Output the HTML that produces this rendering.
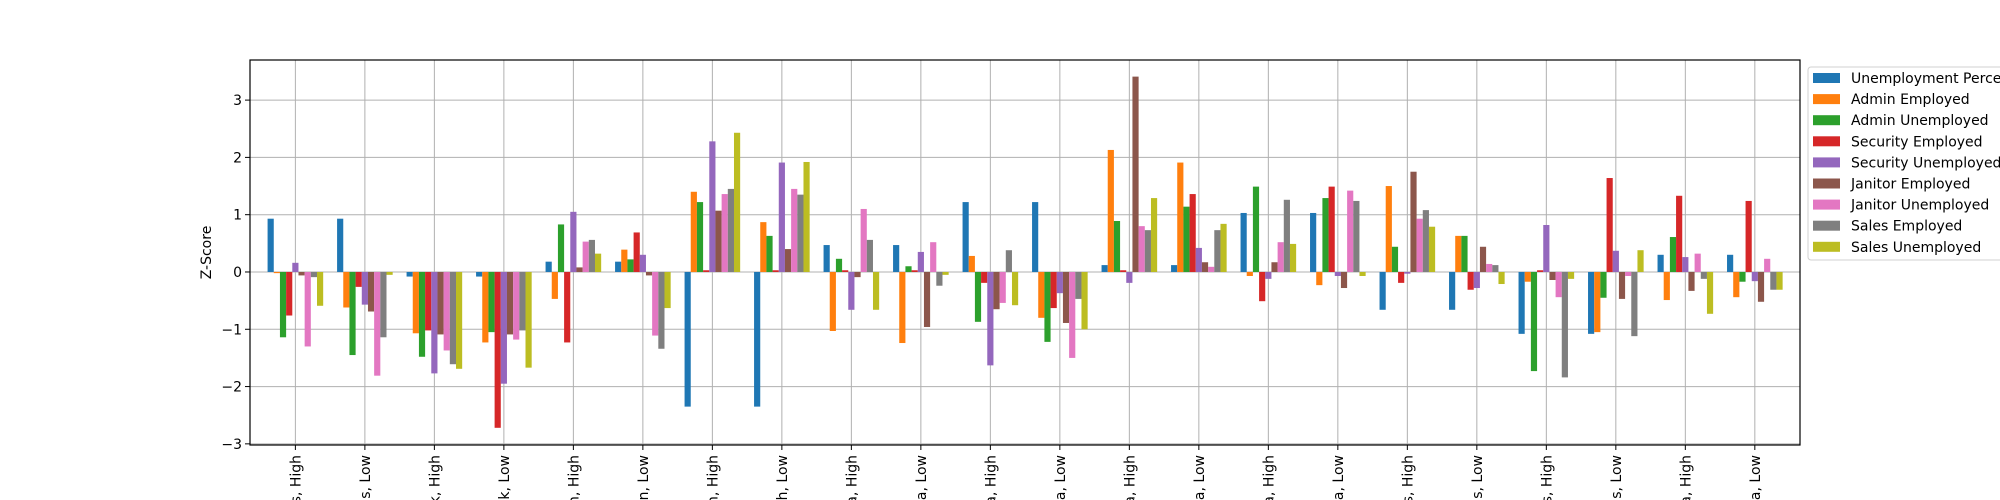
<!DOCTYPE html>
<html><head><meta charset="utf-8"><style>
html,body{margin:0;padding:0;background:#fff;width:2000px;height:500px;overflow:hidden;}
svg{display:block;font-family:"DejaVu Sans","Liberation Sans",sans-serif;overflow:hidden;}
</style></head><body>
<svg id="chart" width="2000" height="500" viewBox="0 0 2000 500" xmlns="http://www.w3.org/2000/svg">
<defs><clipPath id="frameClip"><rect x="0" y="0" width="2000" height="500"/></clipPath></defs>
</svg>
<script>
const seriesNames = ["Unemployment Percent","Admin Employed","Admin Unemployed","Security Employed","Security Unemployed","Janitor Employed","Janitor Unemployed","Sales Employed","Sales Unemployed"];
const seriesColors = ["#1f77b4","#ff7f0e","#2ca02c","#d62728","#9467bd","#8c564b","#e377c2","#7f7f7f","#bcbd22"];
const unemploymentPercent = [0.93,0.93,-0.08,-0.08,0.18,0.18,-2.35,-2.35,0.47,0.47,1.22,1.22,0.12,0.12,1.03,1.03,-0.66,-0.66,-1.08,-1.08,0.30,0.30];
const adminEmployed = [-0.02,-0.62,-1.07,-1.23,-0.47,0.39,1.40,0.87,-1.03,-1.24,0.28,-0.80,2.13,1.91,-0.07,-0.23,1.50,0.63,-0.17,-1.05,-0.49,-0.44];
const adminUnemployed = [-1.14,-1.45,-1.48,-1.05,0.83,0.22,1.22,0.63,0.23,0.10,-0.87,-1.22,0.89,1.14,1.49,1.29,0.44,0.63,-1.73,-0.45,0.61,-0.17];
const securityEmployed = [-0.76,-0.26,-1.02,-2.72,-1.23,0.69,0.03,0.03,0.03,0.03,-0.19,-0.63,0.03,1.36,-0.51,1.49,-0.19,-0.31,0.03,1.64,1.33,1.24];
const securityUnemployed = [0.16,-0.57,-1.77,-1.95,1.05,0.30,2.28,1.91,-0.66,0.35,-1.63,-0.37,-0.19,0.42,-0.12,-0.07,-0.03,-0.28,0.82,0.37,0.26,-0.16];
const janitorEmployed = [-0.06,-0.69,-1.09,-1.09,0.08,-0.06,1.07,0.40,-0.09,-0.96,-0.65,-0.89,3.41,0.17,0.17,-0.28,1.75,0.44,-0.14,-0.47,-0.33,-0.52];
const janitorUnemployed = [-1.30,-1.81,-1.37,-1.18,0.53,-1.11,1.36,1.45,1.10,0.52,-0.54,-1.50,0.80,0.09,0.52,1.42,0.93,0.14,-0.44,-0.07,0.32,0.23];
const salesEmployed = [-0.09,-1.14,-1.61,-1.02,0.56,-1.34,1.45,1.35,0.56,-0.24,0.38,-0.47,0.73,0.73,1.26,1.24,1.08,0.12,-1.84,-1.12,-0.12,-0.31];
const salesUnemployed = [-0.59,-0.05,-1.69,-1.67,0.32,-0.63,2.43,1.92,-0.66,-0.05,-0.58,-1.00,1.29,0.84,0.49,-0.07,0.79,-0.21,-0.12,0.38,-0.73,-0.31];
const yTicks = [-3,-2,-1,0,1,2,3];
const tickLabels = ["s, High","s, Low","k, High","k, Low","n, High","n, Low","h, High","h, Low","a, High","a, Low","a, High","a, Low","a, High","a, Low","a, High","a, Low","s, High","s, Low","s, High","s, Low","a, High","a, Low"];

const allSeries = [unemploymentPercent,adminEmployed,adminUnemployed,securityEmployed,securityUnemployed,janitorEmployed,janitorUnemployed,salesEmployed,salesUnemployed];
const NS="http://www.w3.org/2000/svg";
const svg=document.getElementById('chart');
const L=250,R=1800,T=60,B=445;
const xMin=-0.653,xMax=21.65,yMin=-3.02,yMax=3.70;
function xs(v){return L+(v-xMin)/(xMax-xMin)*(R-L);}
function ys(v){return B-(v-yMin)/(yMax-yMin)*(B-T);}
function mk(tag,attrs,parent){const e=document.createElementNS(NS,tag);for(const k in attrs)e.setAttribute(k,attrs[k]);(parent||svg).appendChild(e);return e;}

const grid=mk('g',{});


const n=tickLabels.length;
for(let i=0;i<n;i++){const x=xs(i);mk('line',{x1:x,x2:x,y1:T,y2:B,stroke:'#b0b0b0','stroke-width':1},grid);}
yTicks.forEach(t=>{const y=ys(t);mk('line',{x1:L,x2:R,y1:y,y2:y,stroke:'#b0b0b0','stroke-width':1},grid);});

const bars=mk('g',{});


const unit=(R-L)/(xMax-xMin);
const gw=0.8, bw=gw/allSeries.length;
allSeries.forEach((s,si)=>{
  s.forEach((v,i)=>{
    const x0=xs(i-gw/2+si*bw);
    const y0=ys(0),y1=ys(v);
    const r=mk('rect',{x:x0,y:Math.min(y0,y1),width:bw*unit,height:Math.abs(y1-y0),fill:seriesColors[si]},bars);
    
    
  });
});

const frame=mk('rect',{x:L,y:T,width:R-L,height:B-T,fill:'none',stroke:'#000','stroke-width':1.2});



const yax=mk('g',{});


yTicks.forEach(t=>{
  const y=ys(t);
  mk('line',{x1:L-5,x2:L,y1:y,y2:y,stroke:'#000','stroke-width':1},yax);
  const tx=mk('text',{x:L-8,y:y+5,'text-anchor':'end','font-size':14,fill:'#000'},yax);
  tx.textContent=(t<0?'\u2212'+Math.abs(t):String(t));
  
  
});
const yt=mk('text',{x:0,y:0,'text-anchor':'middle','font-size':14,fill:'#000',transform:'translate(211,'+((T+B)/2)+') rotate(-90)'});
yt.textContent='Z-Score';



const xax=mk('g',{'clip-path':'url(#frameClip)'});


for(let i=0;i<n;i++){
  const x=xs(i);
  mk('line',{x1:x,x2:x,y1:B,y2:B+5,stroke:'#000','stroke-width':1},xax);
  const tx=mk('text',{x:0,y:0,'text-anchor':'end','font-size':14,fill:'#000',transform:'translate('+(x+5)+','+(B+10)+') rotate(-90)'},xax);
  tx.textContent=tickLabels[i];
  
  
}

const leg=mk('g',{});


mk('rect',{x:1808,y:67,width:200,height:193,rx:3,fill:'#fff',stroke:'#d0d0d0','stroke-width':1},leg);
seriesNames.forEach((nm,i)=>{
  const cy=78+i*21.1;
  const e=mk('g',{},leg);
  
  
  mk('rect',{x:1813,y:cy-5,width:27,height:10,fill:seriesColors[i]},e);
  const t=mk('text',{x:1851,y:cy+5,'font-size':14,fill:'#000'},e);
  t.textContent=nm;
});
</script>
</body></html>
